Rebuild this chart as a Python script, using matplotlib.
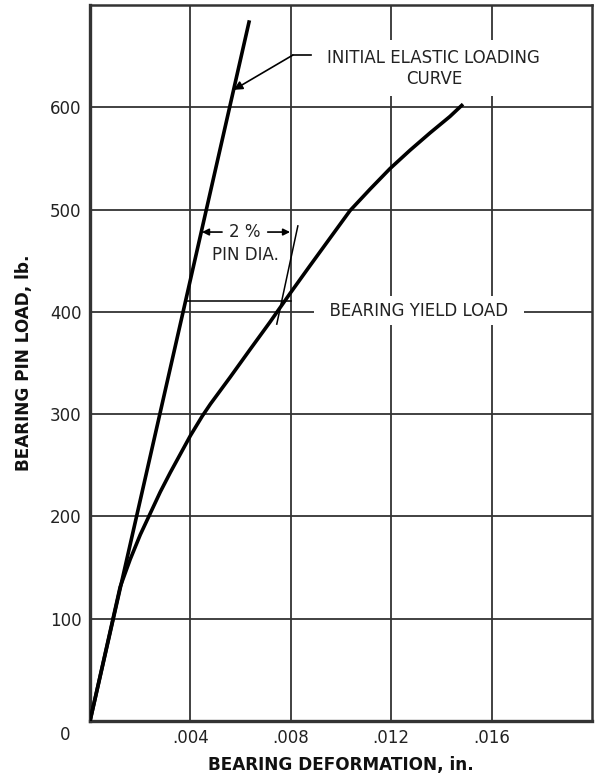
import matplotlib
matplotlib.use("Agg")
import matplotlib.pyplot as plt

# ---- data ----
elastic_x = [0.0, 0.00635]
elastic_y = [0, 685]

curve_x = [0.0, 0.0012, 0.0016, 0.0020, 0.0024, 0.0028, 0.0032, 0.0040, 0.00447,
           0.0048, 0.00558, 0.00637, 0.00717, 0.00757, 0.00797, 0.00876,
           0.00956, 0.01036, 0.01116, 0.01195, 0.01275, 0.01355, 0.01434, 0.01486]
curve_y = [0, 131, 158, 182, 203, 224, 243, 279, 298,
           310, 336, 363, 390, 404, 418, 445,
           472, 499, 520, 540, 558, 575, 591, 603]

offset_x = [0.00744, 0.00828]
offset_y = [388, 484]

yield_x = [0.0038, 0.0080]
yield_load = 411

x_ticks = [0.004, 0.008, 0.012, 0.016]
x_tick_labels = [".004", ".008", ".012", ".016"]
y_ticks = [100, 200, 300, 400, 500, 600]
y_tick_labels = ["100", "200", "300", "400", "500", "600"]

FS = 12
TXT = '#222222'

plt.rcParams['font.family'] = ['DejaVu Sans']
fig = plt.figure(figsize=(5.95, 7.77), dpi=100)
ax = fig.add_axes([0.1513, 0.0721, 0.8437, 0.9215])
ax.set_xlim(0, 0.02)
ax.set_ylim(0, 700)

ax.set_xticks(x_ticks)
ax.set_xticklabels(x_tick_labels)
ax.set_yticks(y_ticks)
ax.set_yticklabels(y_tick_labels)
ax.tick_params(length=0, labelsize=FS, colors=TXT)
ax.tick_params(axis='x', pad=6)
ax.tick_params(axis='y', pad=6)
ax.grid(True, color='#333333', linewidth=1.3)
ax.set_axisbelow(True)
for s in ax.spines.values():
    s.set_color('#333333')
    s.set_linewidth(1.8)
ax.spines['left'].set_linewidth(2.4)
ax.spines['bottom'].set_linewidth(2.4)

ax.text(-0.05, -0.019, "0", transform=ax.transAxes, fontsize=FS,
        ha='center', va='center', color=TXT)

ax.set_xlabel("BEARING DEFORMATION, in.", fontsize=12.2, fontweight='bold',
              labelpad=6, color='#111111')
ax.set_ylabel("BEARING PIN LOAD, lb.", fontsize=12.2, fontweight='bold',
              labelpad=12, color='#111111')

ax.plot(elastic_x, elastic_y, color='black', linewidth=2.6, solid_capstyle='butt', zorder=4)
ax.plot(curve_x, curve_y, color='black', linewidth=2.6, solid_capstyle='butt',
        solid_joinstyle='round', zorder=4)
ax.plot(offset_x, offset_y, color='black', linewidth=1.1, zorder=4)
ax.plot(yield_x, [yield_load, yield_load], color='black', linewidth=1.1, zorder=4)

# dimension "2 %"
ax.annotate("", xy=(0.00446, 478), xytext=(0.00526, 478),
            arrowprops=dict(arrowstyle='-|>', color='black', lw=1.2,
                            mutation_scale=10, shrinkA=0, shrinkB=0), zorder=5)
ax.annotate("", xy=(0.00797, 478), xytext=(0.00708, 478),
            arrowprops=dict(arrowstyle='-|>', color='black', lw=1.2,
                            mutation_scale=10, shrinkA=0, shrinkB=0), zorder=5)
ax.text(0.00618, 478, "2 %", fontsize=FS, ha='center', va='center', color=TXT, zorder=5)
ax.text(0.00618, 456, "PIN DIA.", fontsize=FS, ha='center', va='center', color=TXT, zorder=5)

# yield label
ax.text(0.0131, 401, "  BEARING YIELD LOAD  ", fontsize=FS, ha='center', va='center',
        color=TXT, zorder=5,
        bbox=dict(facecolor='white', edgecolor='none', pad=4))

# elastic label with leader
ax.text(0.0137, 638, "INITIAL ELASTIC LOADING\nCURVE", fontsize=FS, ha='center',
        va='center', multialignment='center', linespacing=1.25,
        color=TXT, zorder=5,
        bbox=dict(facecolor='white', edgecolor='none', pad=6))
ax.plot([0.0088, 0.00808], [651, 651], color='black', linewidth=1.2, zorder=6)
ax.annotate("", xy=(0.00572, 617), xytext=(0.00808, 651),
            arrowprops=dict(arrowstyle='-|>', color='black', lw=1.2,
                            mutation_scale=13, shrinkA=0, shrinkB=0), zorder=6)

fig.savefig("out.png", dpi=100)
